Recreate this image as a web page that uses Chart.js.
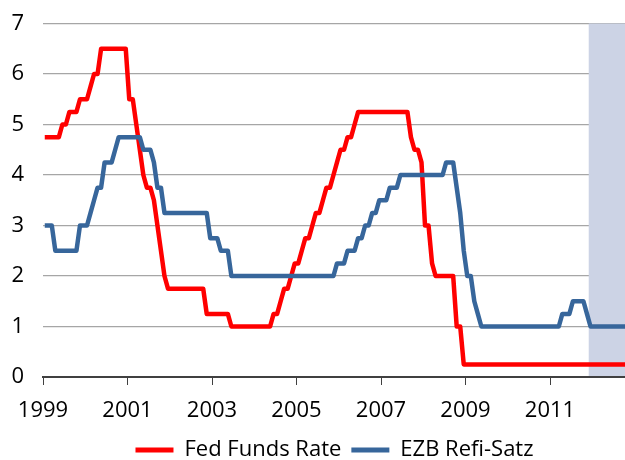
<!DOCTYPE html>
<html>
<head>
<meta charset="utf-8">
<script src="https://cdn.jsdelivr.net/npm/chart.js@4"></script>
<style>
  body { margin: 0; background: #fff; }
</style>
</head>
<body>
<canvas id="chart" width="625" height="460"></canvas>
<script>
// monthly series, first value = Jan 1999, last = Oct 2012
const startYear = 1999;
const yearTicks = [1999, 2001, 2003, 2005, 2007, 2009, 2011];
const forecastFrom = { year: 2011, month: 12 };

const fedFunds = [
  // 1999
  4.75, 4.75, 4.75, 4.75, 4.75, 5.00, 5.00, 5.25, 5.25, 5.25, 5.50, 5.50,
  // 2000
  5.50, 5.75, 6.00, 6.00, 6.50, 6.50, 6.50, 6.50, 6.50, 6.50, 6.50, 6.50,
  // 2001
  5.50, 5.50, 5.00, 4.50, 4.00, 3.75, 3.75, 3.50, 3.00, 2.50, 2.00, 1.75,
  // 2002
  1.75, 1.75, 1.75, 1.75, 1.75, 1.75, 1.75, 1.75, 1.75, 1.75, 1.25, 1.25,
  // 2003
  1.25, 1.25, 1.25, 1.25, 1.25, 1.00, 1.00, 1.00, 1.00, 1.00, 1.00, 1.00,
  // 2004
  1.00, 1.00, 1.00, 1.00, 1.00, 1.25, 1.25, 1.50, 1.75, 1.75, 2.00, 2.25,
  // 2005
  2.25, 2.50, 2.75, 2.75, 3.00, 3.25, 3.25, 3.50, 3.75, 3.75, 4.00, 4.25,
  // 2006
  4.50, 4.50, 4.75, 4.75, 5.00, 5.25, 5.25, 5.25, 5.25, 5.25, 5.25, 5.25,
  // 2007
  5.25, 5.25, 5.25, 5.25, 5.25, 5.25, 5.25, 5.25, 4.75, 4.50, 4.50, 4.25,
  // 2008
  3.00, 3.00, 2.25, 2.00, 2.00, 2.00, 2.00, 2.00, 2.00, 1.00, 1.00, 0.25,
  // 2009
  0.25, 0.25, 0.25, 0.25, 0.25, 0.25, 0.25, 0.25, 0.25, 0.25, 0.25, 0.25,
  // 2010
  0.25, 0.25, 0.25, 0.25, 0.25, 0.25, 0.25, 0.25, 0.25, 0.25, 0.25, 0.25,
  // 2011
  0.25, 0.25, 0.25, 0.25, 0.25, 0.25, 0.25, 0.25, 0.25, 0.25, 0.25, 0.25,
  // 2012
  0.25, 0.25, 0.25, 0.25, 0.25, 0.25, 0.25, 0.25, 0.25, 0.25,
];

const ezbRefi = [
  // 1999
  3.00, 3.00, 3.00, 2.50, 2.50, 2.50, 2.50, 2.50, 2.50, 2.50, 3.00, 3.00,
  // 2000
  3.00, 3.25, 3.50, 3.75, 3.75, 4.25, 4.25, 4.25, 4.50, 4.75, 4.75, 4.75,
  // 2001
  4.75, 4.75, 4.75, 4.75, 4.50, 4.50, 4.50, 4.25, 3.75, 3.75, 3.25, 3.25,
  // 2002
  3.25, 3.25, 3.25, 3.25, 3.25, 3.25, 3.25, 3.25, 3.25, 3.25, 3.25, 2.75,
  // 2003
  2.75, 2.75, 2.50, 2.50, 2.50, 2.00, 2.00, 2.00, 2.00, 2.00, 2.00, 2.00,
  // 2004
  2.00, 2.00, 2.00, 2.00, 2.00, 2.00, 2.00, 2.00, 2.00, 2.00, 2.00, 2.00,
  // 2005
  2.00, 2.00, 2.00, 2.00, 2.00, 2.00, 2.00, 2.00, 2.00, 2.00, 2.00, 2.25,
  // 2006
  2.25, 2.25, 2.50, 2.50, 2.50, 2.75, 2.75, 3.00, 3.00, 3.25, 3.25, 3.50,
  // 2007
  3.50, 3.50, 3.75, 3.75, 3.75, 4.00, 4.00, 4.00, 4.00, 4.00, 4.00, 4.00,
  // 2008
  4.00, 4.00, 4.00, 4.00, 4.00, 4.00, 4.25, 4.25, 4.25, 3.75, 3.25, 2.50,
  // 2009
  2.00, 2.00, 1.50, 1.25, 1.00, 1.00, 1.00, 1.00, 1.00, 1.00, 1.00, 1.00,
  // 2010
  1.00, 1.00, 1.00, 1.00, 1.00, 1.00, 1.00, 1.00, 1.00, 1.00, 1.00, 1.00,
  // 2011
  1.00, 1.00, 1.00, 1.25, 1.25, 1.25, 1.50, 1.50, 1.50, 1.50, 1.25, 1.00,
  // 2012
  1.00, 1.00, 1.00, 1.00, 1.00, 1.00, 1.00, 1.00, 1.00, 1.00,
];

// month index -> x value at the middle of that month
const toPoints = (values) => values.map((v, i) => ({ x: i + 0.5, y: v }));
const monthOf = (year, month) => (year - startYear) * 12 + (month - 1);

const shadePlugin = {
  id: "shade",
  beforeDatasetsDraw(chart) {
    const { ctx, chartArea, scales } = chart;
    const x0 = scales.x.getPixelForValue(monthOf(forecastFrom.year, forecastFrom.month));
    ctx.save();
    ctx.fillStyle = "#CCD3E5";
    ctx.fillRect(x0, chartArea.top, chartArea.right - x0, chartArea.bottom - chartArea.top - 1);
    ctx.restore();
  },
};

// legend in the original was centred on a wider page
const legendShift = {
  id: "legendShift",
  afterLayout(chart) {
    const lg = chart.legend;
    lg.left += 22;
    lg.right += 22;
    lg.top += 11;
    lg.bottom += 11;
  },
};

Chart.defaults.font.family = "'Open Sans', sans-serif";
Chart.defaults.font.size = 22;
Chart.defaults.color = "#000";

new Chart(document.getElementById("chart"), {
  type: "line",
  data: {
    datasets: [
      {
        label: "Fed Funds Rate",
        data: toPoints(fedFunds),
        borderColor: "#FF0000",
        backgroundColor: "#FF0000",
        borderWidth: 4.5,
        order: 1,
      },
      {
        label: "EZB Refi-Satz",
        data: toPoints(ezbRefi),
        borderColor: "#37669B",
        backgroundColor: "#37669B",
        borderWidth: 4.5,
        order: 0,
      },
    ],
  },
  options: {
    responsive: false,
    animation: false,
    layout: { padding: { top: 23.5, right: 0, bottom: 0, left: 0 } },
    elements: {
      point: { radius: 0 },
      line: { tension: 0, borderJoinStyle: "round", fill: false },
    },
    scales: {
      x: {
        type: "linear",
        min: 0,
        max: 165.3,
        afterFit: (scale) => {
          scale.height = 41;
          scale.paddingLeft = 0;
          scale.paddingRight = 0;
        },
        grid: { drawOnChartArea: false, color: "#404040", tickLength: 8 },
        border: { color: "#404040", width: 2 },
        ticks: {
          stepSize: 24,
          includeBounds: false,
          padding: 13,
          maxRotation: 0,
          callback: (v) => {
            const year = startYear + v / 12;
            return yearTicks.includes(year) ? String(year) : null;
          },
        },
      },
      y: {
        min: 0,
        max: 7,
        afterFit: (scale) => {
          scale.width = 43;
          scale.paddingTop = 0;
          scale.paddingBottom = 0;
        },
        border: { display: false },
        grid: { color: "#A6A6A6", lineWidth: 1.3, drawTicks: false },
        ticks: { stepSize: 1, padding: 19 },
      },
    },
    plugins: {
      legend: {
        position: "bottom",
        labels: {
          boxWidth: 38,
          boxHeight: 5,
          padding: 10,
          sort: (a, b) => a.datasetIndex - b.datasetIndex,
          generateLabels: (chart) =>
            Chart.defaults.plugins.legend.labels
              .generateLabels(chart)
              .map((item) => ({ ...item, lineWidth: 0, fillStyle: item.strokeStyle })),
        },
      },
      tooltip: { enabled: false },
    },
  },
  plugins: [shadePlugin, legendShift],
});
</script>
</body>
</html>
